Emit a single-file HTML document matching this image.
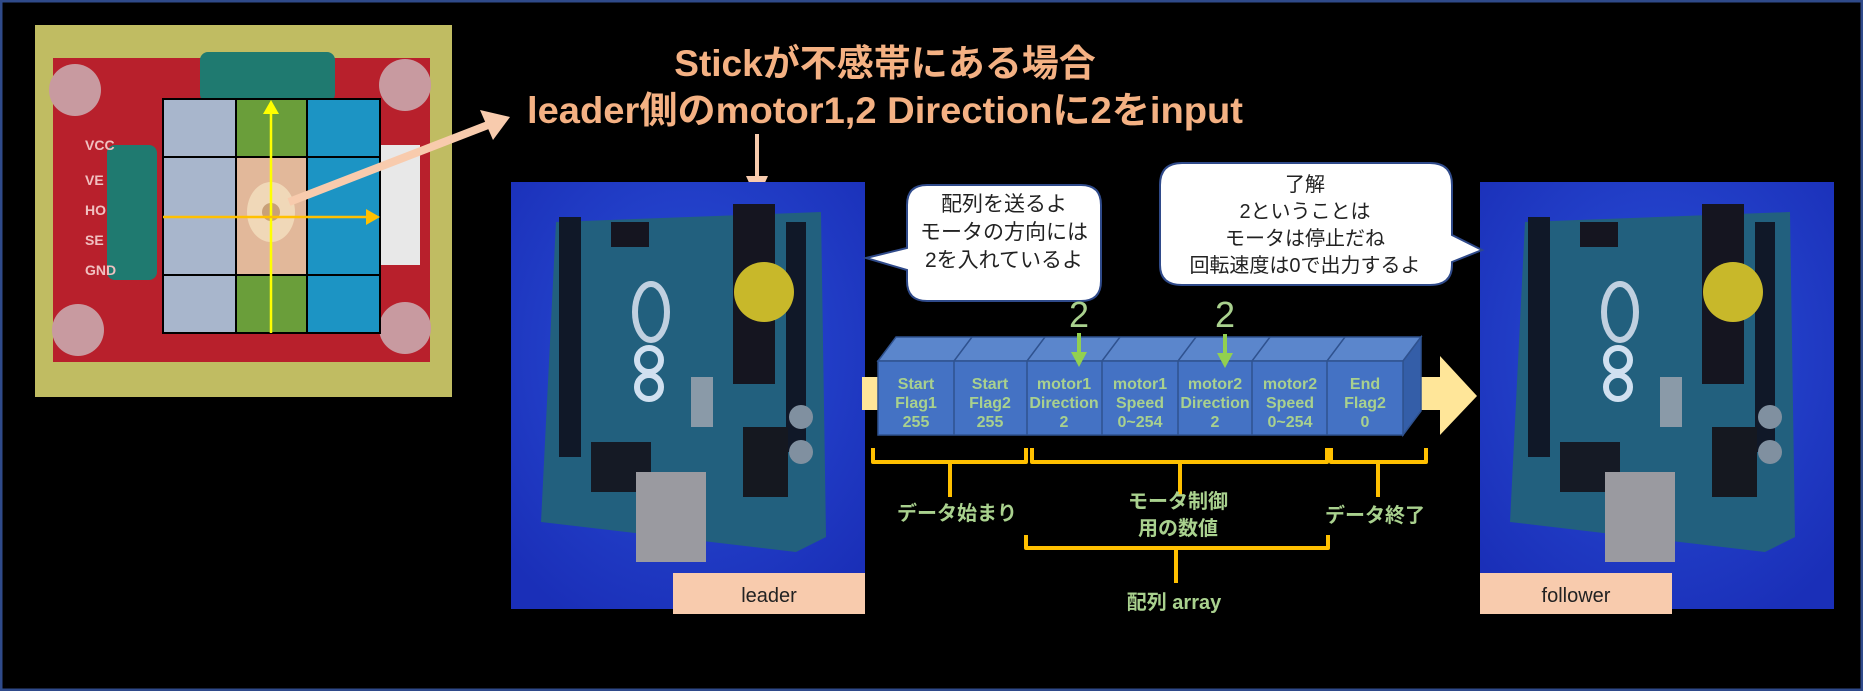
<!DOCTYPE html>
<html><head><meta charset="utf-8"><style>
html,body{margin:0;padding:0;background:#000;}
svg{display:block}
text{font-family:"Liberation Sans","Noto Sans CJK JP",sans-serif}
</style></head><body>
<svg width="1863" height="691" viewBox="0 0 1863 691" xmlns="http://www.w3.org/2000/svg">
<defs>
<radialGradient id="bl" cx="50%" cy="40%" r="70%"><stop offset="0" stop-color="#2a4fd8"/><stop offset="1" stop-color="#1a2fb8"/></radialGradient>
<g id="ard">
  <rect x="0" y="0" width="354" height="427" fill="url(#bl)"/>
  <polygon points="45,40 310,30 315,355 285,370 30,340" fill="#22607e"/>
  <rect x="48" y="35" width="22" height="240" fill="#101828"/>
  <rect x="275" y="40" width="20" height="230" fill="#101828"/>
  <rect x="80" y="260" width="60" height="50" fill="#151a25"/>
  <rect x="125" y="290" width="70" height="90" fill="#9a9aa0"/>
  <rect x="222" y="22" width="42" height="180" fill="#151520"/>
  <circle cx="253" cy="110" r="30" fill="#c8b82a"/>
  <rect x="100" y="40" width="38" height="25" fill="#151520"/>
  <ellipse cx="140" cy="130" rx="16" ry="28" fill="none" stroke="#c0d0e0" stroke-width="6"/>
  <circle cx="138" cy="178" r="12" fill="none" stroke="#d0e0f0" stroke-width="6"/>
  <circle cx="138" cy="205" r="12" fill="none" stroke="#d0e0f0" stroke-width="6"/>
  <rect x="232" y="245" width="45" height="70" fill="#151820"/>
  <circle cx="290" cy="235" r="12" fill="#8090a0"/>
  <circle cx="290" cy="270" r="12" fill="#8090a0"/>
  <rect x="180" y="195" width="22" height="50" fill="#8a9aa8"/>
</g>
</defs>
<rect x="1" y="1" width="1861" height="689" fill="#000" stroke="#2f4a8a" stroke-width="3"/>

<!-- joystick photo -->
<rect x="35" y="25" width="417" height="372" fill="#c0bc62"/>
<rect x="53" y="58" width="377" height="304" fill="#b8202c"/>
<circle cx="75" cy="90" r="26" fill="#c89aa0"/><circle cx="405" cy="85" r="26" fill="#c89aa0"/>
<circle cx="78" cy="330" r="26" fill="#c89aa0"/><circle cx="405" cy="328" r="26" fill="#c89aa0"/>
<rect x="200" y="52" width="135" height="50" rx="8" fill="#1f7a70"/>
<rect x="107" y="145" width="50" height="135" rx="8" fill="#1f7a70"/>
<rect x="380" y="145" width="40" height="120" fill="#e8e8e8"/>
<g font-size="14" fill="#f0c0c0" font-weight="bold"><text x="85" y="150">VCC</text><text x="85" y="185">VE</text><text x="85" y="215">HO</text><text x="85" y="245">SE</text><text x="85" y="275">GND</text></g>
<rect x="163" y="99" width="73" height="234" fill="#a8b6cc"/>
<rect x="236" y="99" width="71" height="234" fill="#6a9e3a"/>
<rect x="236" y="157" width="71" height="118" fill="#e2b89a"/>
<ellipse cx="271" cy="212" rx="24" ry="30" fill="#f0d8b8"/><circle cx="271" cy="212" r="9" fill="#c8a078"/>
<rect x="307" y="99" width="73" height="234" fill="#1c94c4"/>
<g stroke="#000" stroke-width="2" fill="none"><rect x="163" y="99" width="217" height="234"/><line x1="236" y1="99" x2="236" y2="333"/><line x1="307" y1="99" x2="307" y2="333"/><line x1="163" y1="157" x2="380" y2="157"/><line x1="163" y1="275" x2="380" y2="275"/></g>
<line x1="271" y1="333" x2="271" y2="112" stroke="#ffff00" stroke-width="2.5"/><polygon points="271,100 263,114 279,114" fill="#ffff00"/>
<line x1="163" y1="217" x2="368" y2="217" stroke="#ffc000" stroke-width="2.5"/><polygon points="380,217 366,209 366,225" fill="#ffc000"/>
<line x1="289" y1="202" x2="488" y2="125" stroke="#f8cbad" stroke-width="8"/><polygon points="510,117 480,110 493,140" fill="#f8cbad"/>

<!-- title -->
<g fill="#f4b183" font-weight="bold" font-size="37" text-anchor="middle">
<text x="885" y="76">Stickが不感帯にある場合</text>
<text x="885" y="123" textLength="716" lengthAdjust="spacingAndGlyphs">leader側のmotor1,2 Directionに2をinput</text>
</g>
<line x1="757" y1="134" x2="757" y2="180" stroke="#f8cbad" stroke-width="4"/><polygon points="746,176 768,176 757,200" fill="#f8cbad"/>

<!-- photos -->
<use href="#ard" x="511" y="182"/>
<use href="#ard" x="1480" y="182"/>
<rect x="673" y="573" width="192" height="41" fill="#f8cbad"/>
<text x="769" y="602" font-size="20" text-anchor="middle" fill="#222">leader</text>
<rect x="1480" y="573" width="192" height="41" fill="#f8cbad"/>
<text x="1576" y="602" font-size="20" text-anchor="middle" fill="#222">follower</text>

<!-- bubbles -->
<path d="M927,185 H1081 Q1101,185 1101,205 V281 Q1101,301 1081,301 H927 Q907,301 907,281 V270 L866,258 L907,248 V205 Q907,185 927,185 Z" fill="#fff" stroke="#2f4a8a" stroke-width="2"/>
<g font-size="21" text-anchor="middle" fill="#222"><text x="1004" y="211">配列を送るよ</text><text x="1004" y="239">モータの方向には</text><text x="1004" y="267">2を入れているよ</text></g>
<path d="M1182,163 H1430 Q1452,163 1452,185 V235 L1482,250 L1452,262 V265 Q1452,285 1430,285 H1182 Q1160,285 1160,265 V185 Q1160,163 1182,163 Z" fill="#fff" stroke="#2f4a8a" stroke-width="2"/>
<g font-size="20" text-anchor="middle" fill="#222"><text x="1305" y="191">了解</text><text x="1305" y="218">2ということは</text><text x="1305" y="245">モータは停止だね</text><text x="1305" y="272">回転速度は0で出力するよ</text></g>

<!-- big arrow -->
<polygon points="862,377 1440,377 1440,356 1477,396 1440,435 1440,410 862,410" fill="#ffe699"/>

<!-- array boxes -->
<polygon points="878,361 896,337 1421,337 1403,361" fill="#5b86cc" stroke="#2f528f" stroke-width="1.5"/>
<polygon points="1403,361 1421,337 1421,411 1403,435" fill="#345ea8" stroke="#2f528f" stroke-width="1.5"/>
<rect x="878" y="361" width="525" height="74" fill="#4472c4" stroke="#2f528f" stroke-width="1.5"/>
<g stroke="#2f528f" stroke-width="1.5">
<line x1="954" y1="361" x2="954" y2="435"/><line x1="1027" y1="361" x2="1027" y2="435"/><line x1="1102" y1="361" x2="1102" y2="435"/><line x1="1178" y1="361" x2="1178" y2="435"/><line x1="1252" y1="361" x2="1252" y2="435"/><line x1="1327" y1="361" x2="1327" y2="435"/>
<line x1="954" y1="361" x2="972" y2="337"/><line x1="1027" y1="361" x2="1045" y2="337"/><line x1="1102" y1="361" x2="1120" y2="337"/><line x1="1178" y1="361" x2="1196" y2="337"/><line x1="1252" y1="361" x2="1270" y2="337"/><line x1="1327" y1="361" x2="1345" y2="337"/>
</g>
<g font-size="16" font-weight="bold" fill="#a9d18e" text-anchor="middle">
<text x="916" y="389">Start</text><text x="916" y="408">Flag1</text><text x="916" y="427">255</text>
<text x="990" y="389">Start</text><text x="990" y="408">Flag2</text><text x="990" y="427">255</text>
<text x="1064" y="389">motor1</text><text x="1064" y="408">Direction</text><text x="1064" y="427">2</text>
<text x="1140" y="389">motor1</text><text x="1140" y="408">Speed</text><text x="1140" y="427">0~254</text>
<text x="1215" y="389">motor2</text><text x="1215" y="408">Direction</text><text x="1215" y="427">2</text>
<text x="1290" y="389">motor2</text><text x="1290" y="408">Speed</text><text x="1290" y="427">0~254</text>
<text x="1365" y="389">End</text><text x="1365" y="408">Flag2</text><text x="1365" y="427">0</text>
</g>
<g fill="#a9d18e"><text x="1079" y="327" font-size="36" text-anchor="middle">2</text><text x="1225" y="327" font-size="36" text-anchor="middle">2</text></g>
<g stroke="#92d050" stroke-width="4"><line x1="1079" y1="333" x2="1079" y2="355"/><line x1="1225" y1="334" x2="1225" y2="356"/></g>
<polygon points="1071,352 1087,352 1079,367" fill="#92d050"/><polygon points="1217,353 1233,353 1225,368" fill="#92d050"/>

<!-- braces -->
<g stroke="#ffc000" stroke-width="4" fill="none" stroke-linejoin="round">
<path d="M873,448 V462 H1026 V448 M950,462 V497"/>
<path d="M1032,448 V462 H1327 V448 M1180,462 V495"/>
<path d="M1331,448 V462 H1426 V448 M1378,462 V497"/>
<path d="M1026,535 V548 H1328 V535 M1176,548 V583"/>
</g>
<g font-size="20" fill="#a9d18e" font-weight="bold" text-anchor="middle">
<text x="957" y="520">データ始まり</text>
<text x="1178" y="508">モータ制御</text><text x="1178" y="535">用の数値</text>
<text x="1375" y="522">データ終了</text>
<text x="1174" y="609">配列 array</text>
</g>
</svg>
</body></html>
